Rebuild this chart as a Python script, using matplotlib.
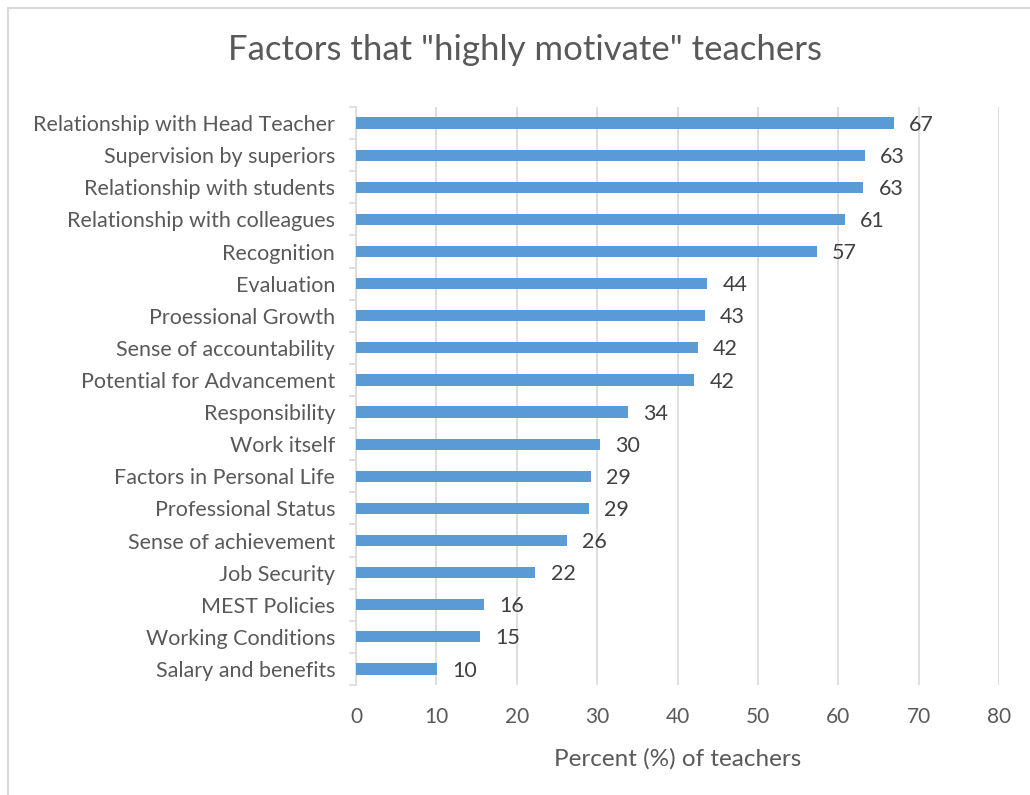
import matplotlib.pyplot as plt
import matplotlib.patches as patches
import numpy as np

# Categories listed bottom to top
factors = ['Salary and benefits', 'Working Conditions', 'MEST Policies', 'Job Security',
           'Sense of achievement', 'Professional Status', 'Factors in Personal Life',
           'Work itself', 'Responsibility', 'Potential for Advancement',
           'Sense of accountability', 'Proessional Growth', 'Evaluation', 'Recognition',
           'Relationship with colleagues', 'Relationship with students',
           'Supervision by superiors', 'Relationship with Head Teacher']
percent = [10.1, 15.4, 15.9, 22.3, 26.2, 29.0, 29.2, 30.3, 33.8, 42.1,
           42.5, 43.4, 43.7, 57.3, 60.8, 63.1, 63.3, 66.9]
xticks = [0, 10, 20, 30, 40, 50, 60, 70, 80]

plt.rcParams['font.family'] = ['Lato', 'DejaVu Sans']
text_col = '#595959'
grid_col = '#d9d9d9'
bar_col = '#5b9bd5'

fig = plt.figure(figsize=(10.3, 7.95), dpi=100)
ax = fig.add_axes([356 / 1030, 1 - 685 / 795, (999 - 356) / 1030, (685 - 107) / 795])

# Border around the chart area
fig.patches.append(patches.Rectangle((8 / 1030, -0.01), 1.0, 1 - 8 / 795 + 0.01,
                                     transform=fig.transFigure, fill=False,
                                     edgecolor=grid_col, linewidth=1.5))

y = np.arange(len(factors))
ax.barh(y, percent, height=0.35, color=bar_col, zorder=3)

for yi, v in zip(y, percent):
    ax.text(v + 1.9, yi - 0.05, f'{v:.0f}', va='center', ha='left', fontsize=15.5, color='#404040')

ax.set_xlim(0, 80)
ax.set_ylim(-0.5, len(factors) - 0.5)
ax.set_xticks(xticks)
ax.set_xticklabels([str(t) for t in xticks], fontsize=15, color=text_col)
ax.set_yticks(y)
ax.set_yticklabels(factors, fontsize=15.5, color=text_col)
ax.set_yticks(np.arange(-0.5, len(factors)), minor=True)
ax.tick_params(axis='y', which='major', length=0, pad=15)
ax.tick_params(axis='y', which='minor', length=5, color=grid_col, width=1.2)
ax.tick_params(axis='x', length=0, pad=16)

ax.xaxis.grid(True, color=grid_col, linewidth=1.2, zorder=0)
ax.set_axisbelow(True)
for s in ['top', 'right', 'bottom']:
    ax.spines[s].set_visible(False)
ax.spines['left'].set_color(grid_col)
ax.spines['left'].set_linewidth(1.2)

ax.set_xlabel('Percent (%) of teachers', fontsize=17.5, color=text_col, labelpad=15)
fig.text(0.51, 1 - 50 / 795, 'Factors that "highly motivate" teachers',
         ha='center', va='center', fontsize=25, color=text_col)

fig.savefig('out.png', dpi=100)
